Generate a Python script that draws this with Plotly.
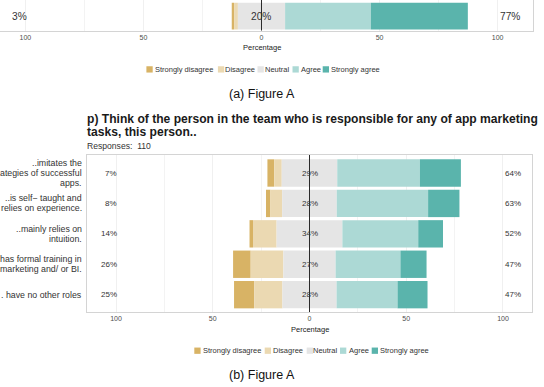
import plotly.graph_objects as go

W, H = 544, 387
FONT = "Liberation Sans, Arial, Helvetica, sans-serif"

# ---------------- data ----------------
levels = ["Strongly disagree", "Disagree", "Neutral", "Agree", "Strongly agree"]
level_colors = ["#D8B365", "#EBD9B2", "#E5E5E5", "#ACD9D5", "#5AB4AC"]

# panel (a): single item (its label is outside the visible crop)
a_items = ["item a"]
a_sd = [1.0]
a_d = [1.6]
a_n = [20.0]
a_a = [36.3]
a_sa = [41.1]

# panel (b)
b_items = [
    "..imitates the\nategies of successful\napps.",
    "..is self\u2212 taught and\nrelies on experience.",
    "..mainly relies on\nintuition.",
    "has formal training in\nmarketing and/ or BI.",
    ". have no other roles",
]
b_sd = [3.5, 2.3, 1.8, 9.1, 10.4]
b_d = [3.9, 6.1, 12.2, 16.9, 14.6]
b_n = [28.7, 28.2, 34.0, 27.0, 28.0]
b_a = [42.7, 47.2, 39.2, 33.5, 31.5]
b_sa = [21.2, 16.2, 12.8, 13.5, 15.5]

tick_vals = [-100, -50, 0, 50, 100]
tick_text = ["100", "50", "0", "50", "100"]

b_title_1 = "p) Think of the person in the team who is responsible for any of app marketing"
b_title_2 = "tasks, this person.."
b_responses = "Responses:\u00a0 110"
x_title = "Percentage"
captions = ["(a) Figure A", "(b) Figure A"]


def px(x):
    return x / W


def py(y):
    return 1 - y / H


def r(v):
    return int(v + 0.5)


fig = go.Figure()


def add_panel(items, sd, d, n, a, sa, xa, ya, width):
    segs = [sd, d, n, a, sa]
    bases = [
        [-(nn / 2 + dd + ss) for ss, dd, nn in zip(sd, d, n)],
        [-(nn / 2 + dd) for dd, nn in zip(d, n)],
        [-nn / 2 for nn in n],
        [nn / 2 for nn in n],
        [nn / 2 + aa for nn, aa in zip(n, a)],
    ]
    for lev, col, seg, base in zip(levels, level_colors, segs, bases):
        fig.add_trace(go.Bar(
            y=items, x=seg, base=base, orientation="h", name=lev,
            marker=dict(color=col, line=dict(width=0)), width=width,
            xaxis=xa, yaxis=ya, showlegend=False,
            hovertemplate=lev + ": %{x:.1f}%<extra></extra>",
        ))


add_panel(a_items, a_sd, a_d, a_n, a_a, a_sa, "x", "y", 0.875)
add_panel(b_items, b_sd, b_d, b_n, b_a, b_sa, "x2", "y2", 0.9)

axis_common = dict(
    showline=True, mirror=True, linecolor="#d4d4d4", linewidth=1,
    zeroline=False, ticks="", fixedrange=True,
)

xcommon = dict(
    axis_common,
    tickvals=tick_vals, ticktext=tick_text,
    tickfont=dict(family=FONT, size=7, color="#4d4d4d"),
    showgrid=True, gridcolor="#f0f0f0", gridwidth=1,
    minor=dict(tickvals=[-75, -25, 25, 75], showgrid=True,
               gridcolor="#f3f3f3", gridwidth=1, ticks=""),
)

fig.update_layout(
    width=W, height=H,
    margin=dict(l=0, r=0, t=0, b=0, pad=0),
    paper_bgcolor="white", plot_bgcolor="white",
    barmode="overlay", showlegend=False,
    font=dict(family=FONT, color="#333333"),
    xaxis=dict(xcommon, domain=[0, px(533)], range=[-110.76, 115], anchor="y"),
    yaxis=dict(axis_common, domain=[py(30.5), 1], type="category",
               range=[-0.47, 0.53], showticklabels=False, showgrid=False,
               anchor="x"),
    xaxis2=dict(xcommon, domain=[px(87), px(532)], range=[-115, 115], anchor="y2"),
    yaxis2=dict(axis_common, domain=[py(312), py(155)], type="category",
                categoryorder="array", categoryarray=b_items,
                range=[4.57, -0.592], showticklabels=False, showgrid=False,
                anchor="x2"),
)

ann = []
shapes = []

# zero lines
for xa, ya in (("x", "y"), ("x2", "y2")):
    shapes.append(dict(type="line", xref=xa, yref=ya + " domain", x0=0, x1=0,
                       y0=0, y1=1, line=dict(color="#2a2a2a", width=1),
                       layer="above"))


def pct_labels(items, sd, d, n, a, sa, xa, ya, size):
    for it, s1, s2, s3, s4, s5 in zip(items, sd, d, n, a, sa):
        f = dict(family=FONT, size=size, color="#333333")
        ann.append(dict(x=-99.5, y=it, xref=xa, yref=ya, text=f"{r(s1 + s2)}%",
                        showarrow=False, xanchor="right", xshift=2, font=f))
        ann.append(dict(x=0, y=it, xref=xa, yref=ya, text=f"{r(s3)}%",
                        showarrow=False, xanchor="center", font=f))
        ann.append(dict(x=101, y=it, xref=xa, yref=ya, text=f"{r(s4 + s5)}%",
                        showarrow=False, xanchor="left", xshift=-2, font=f))


pct_labels(a_items, a_sd, a_d, a_n, a_a, a_sa, "x", "y", 10.2)
pct_labels(b_items, b_sd, b_d, b_n, b_a, b_sa, "x2", "y2", 8)

# category labels (panel b), one annotation per line for tight spacing
for it in b_items:
    lines = it.split("\n")
    k = len(lines)
    for j, line in enumerate(lines):
        ann.append(dict(x=px(82), y=it, xref="paper", yref="y2", text=line,
                        showarrow=False, xanchor="right", xshift=2,
                        yshift=((k - 1) / 2 - j) * 10,
                        font=dict(family=FONT, size=8.8, color="#333333")))

# titles
ann.append(dict(x=px(87), y=py(119), xref="paper", yref="paper", text="<b>" + b_title_1 + "</b>",
                showarrow=False, xanchor="left", yanchor="middle", xshift=-2,
                font=dict(family=FONT, size=12.1, color="#1a1a1a")))
ann.append(dict(x=px(87), y=py(132), xref="paper", yref="paper", text="<b>" + b_title_2 + "</b>",
                showarrow=False, xanchor="left", yanchor="middle", xshift=-2,
                font=dict(family=FONT, size=12.1, color="#1a1a1a")))
ann.append(dict(x=px(87), y=py(146), xref="paper", yref="paper", text=b_responses,
                showarrow=False, xanchor="left", yanchor="middle", xshift=-2,
                font=dict(family=FONT, size=8.6, color="#333333")))

# axis titles
for cx, cy in ((261.5, 47.2), (309.5, 329.3)):
    ann.append(dict(x=px(cx), y=py(cy), xref="paper", yref="paper", text=x_title,
                    showarrow=False, xanchor="center", yanchor="middle",
                    font=dict(family=FONT, size=7.5, color="#222222")))

# manual legends
leg_specs = [
    (69.4, [146.4, 217.9, 257.5, 292.5, 322.7], [155.1, 224.8, 265.4, 300.5, 331.4]),
    (350.7, [194.3, 264.7, 306.7, 340.0, 371.7], [203.3, 272.7, 313.3, 348.7, 380.0]),
]
sq = 6.3
for cy, sqx, txx in leg_specs:
    for lev, col, sx, tx in zip(levels, level_colors, sqx, txx):
        shapes.append(dict(type="rect", xref="paper", yref="paper",
                           x0=px(sx), x1=px(sx + sq), y0=py(cy + sq / 2), y1=py(cy - sq / 2),
                           fillcolor=col, line=dict(width=0), layer="above"))
        ann.append(dict(x=px(tx), y=py(cy), xref="paper", yref="paper", text=lev,
                        showarrow=False, xanchor="left", yanchor="middle", xshift=-2,
                        font=dict(family=FONT, size=7.5, color="#333333")))

# captions
for cap, cy in zip(captions, (94.4, 375)):
    ann.append(dict(x=px(261.5), y=py(cy), xref="paper", yref="paper", text=cap,
                    showarrow=False, xanchor="center", yanchor="middle",
                    font=dict(family=FONT, size=12.5, color="#111111")))

fig.update_layout(annotations=ann, shapes=shapes)
fig.write_html("out.html")
